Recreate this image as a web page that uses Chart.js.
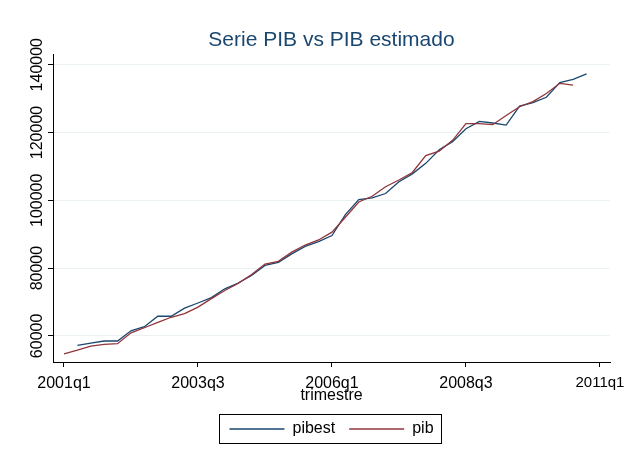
<!DOCTYPE html>
<html>
<head>
<meta charset="utf-8">
<script src="https://cdn.jsdelivr.net/npm/chart.js@4.4.1/dist/chart.umd.min.js"></script>
<style>
  body { margin: 0; background: #fff; }
</style>
</head>
<body>
<canvas id="pibChart" width="624" height="452"></canvas>
<script>
// quarterly series, x index 0 = 2001q1
const pibStart = 0;      // pib runs 2001q1 .. 2010q3
const pib = [
    54700, 55800, 57000, 57500, 57700, 60900, 62400, 64000, 65500, 66600,
    68500, 71000, 73400, 75500, 78100, 81200, 82000, 84700, 86800, 88300,
    90600, 95000, 99500, 101200, 104000, 106000, 108200, 113200, 114500, 117700,
    122600, 122600, 122300, 125000, 127600, 129100, 131500, 134500, 134000
];
const pibestStart = 1;   // pibest runs 2001q2 .. 2010q4
const pibest = [
    57200, 57900, 58500, 58500, 61500, 62700, 65800, 65800, 68200,
    69700, 71300, 73900, 75600, 77800, 80800, 81700, 84200, 86400, 87800,
    89600, 95800, 100200, 100700, 102000, 105500, 107800, 110900, 114900, 117300,
    121100, 123300, 122800, 122200, 127800, 128800, 130400, 134700, 135700, 137300
];
const xTickValues = [0, 10, 20, 30, 40];
const xTickLabels = ["2001q1", "2003q3", "2006q1", "2008q3", "2011q1"];
const yTickValues = [60000, 80000, 100000, 120000, 140000];

const FONT = "'Liberation Sans', Arial, sans-serif";
Chart.defaults.font.family = FONT;
Chart.defaults.color = "#000";

// Stata-style extras: vertical y labels and a box round the legend
const stataExtras = {
    id: "stataExtras",
    afterDraw(chart) {
        const ctx = chart.ctx;
        const yScale = chart.scales.y;
        ctx.save();
        ctx.font = "16px " + FONT;
        ctx.fillStyle = "#000";
        ctx.textAlign = "center";
        ctx.textBaseline = "alphabetic";
        yTickValues.forEach(v => {
            ctx.save();
            ctx.translate(42, yScale.getPixelForValue(v));
            ctx.rotate(-Math.PI / 2);
            ctx.fillText(String(v), 0, 0);
            ctx.restore();
        });

        const boxes = chart.legend.legendHitBoxes;
        if (boxes && boxes.length) {
            const first = boxes[0];
            const last = boxes[boxes.length - 1];
            const left = first.left - 10;
            const right = last.left + last.width + 8;
            const top = first.top - 7;
            const bottom = first.top + first.height + 6;
            ctx.strokeStyle = "#000";
            ctx.lineWidth = 1;
            ctx.strokeRect(Math.round(left) + 0.5, Math.round(top) + 0.5,
                Math.round(right - left), Math.round(bottom - top));
        }
        ctx.restore();
    }
};

const ctx = document.getElementById("pibChart").getContext("2d");
const pibChart = new Chart(ctx, {
    type: "line",
    data: {
        datasets: [{
            label: "pibest",
            data: pibest.map((v, i) => ({ x: pibestStart + i, y: v })),
            borderColor: "#1a476f",
            backgroundColor: "#1a476f",
            borderWidth: 1.3,
            pointRadius: 0,
            order: 1
        }, {
            label: "pib",
            data: pib.map((v, i) => ({ x: pibStart + i, y: v })),
            borderColor: "#90353b",
            backgroundColor: "#90353b",
            borderWidth: 1.3,
            pointRadius: 0,
            order: 0
        }]
    },
    options: {
        responsive: false,
        animation: false,
        layout: { padding: { right: 14, bottom: 5 } },
        scales: {
            x: {
                type: "linear",
                min: -0.82,
                max: 40.75,
                afterBuildTicks: axis => { axis.ticks = xTickValues.map(v => ({ value: v })); },
                afterFit: axis => {
                    axis.height = 45;
                    // let the last label run to the edge like the original
                    axis.paddingLeft = 0;
                    axis.paddingRight = 0;
                },
                ticks: {
                    autoSkip: false,
                    maxRotation: 0,
                    padding: 7,
                    // last label squeezed a bit so it fits, as Stata does
                    font: c => ({ size: c.index === xTickValues.length - 1 ? 15 : 16 }),
                    color: "#000",
                    callback: v => xTickLabels[xTickValues.indexOf(v)]
                },
                grid: { drawOnChartArea: false, tickLength: 5, tickColor: "#000" },
                border: { color: "#000", width: 1 },
                title: {
                    display: true,
                    text: "trimestre",
                    font: { size: 16 },
                    color: "#000",
                    padding: { top: 0, bottom: 2 }
                }
            },
            y: {
                type: "linear",
                min: 52300,
                max: 143100,
                afterBuildTicks: axis => { axis.ticks = yTickValues.map(v => ({ value: v })); },
                afterFit: axis => { axis.width = 53; },
                ticks: { display: false },
                grid: { color: "#eaf2f3", tickLength: 5, tickColor: "#000" },
                border: { color: "#000", width: 1 }
            }
        },
        plugins: {
            title: {
                display: true,
                text: "Serie PIB vs PIB estimado",
                fullSize: false,
                color: "#1a476f",
                font: { size: 21, weight: "normal" },
                padding: { top: 28, bottom: 1 }
            },
            legend: {
                position: "bottom",
                fullSize: false,
                labels: {
                    usePointStyle: true,
                    pointStyle: "line",
                    pointStyleWidth: 55,
                    boxHeight: 16,
                    padding: 14,
                    color: "#000",
                    font: { size: 16 },
                    sort: (a, b) => a.datasetIndex - b.datasetIndex
                }
            },
            tooltip: { enabled: false }
        }
    },
    plugins: [stataExtras]
});
</script>
</body>
</html>
